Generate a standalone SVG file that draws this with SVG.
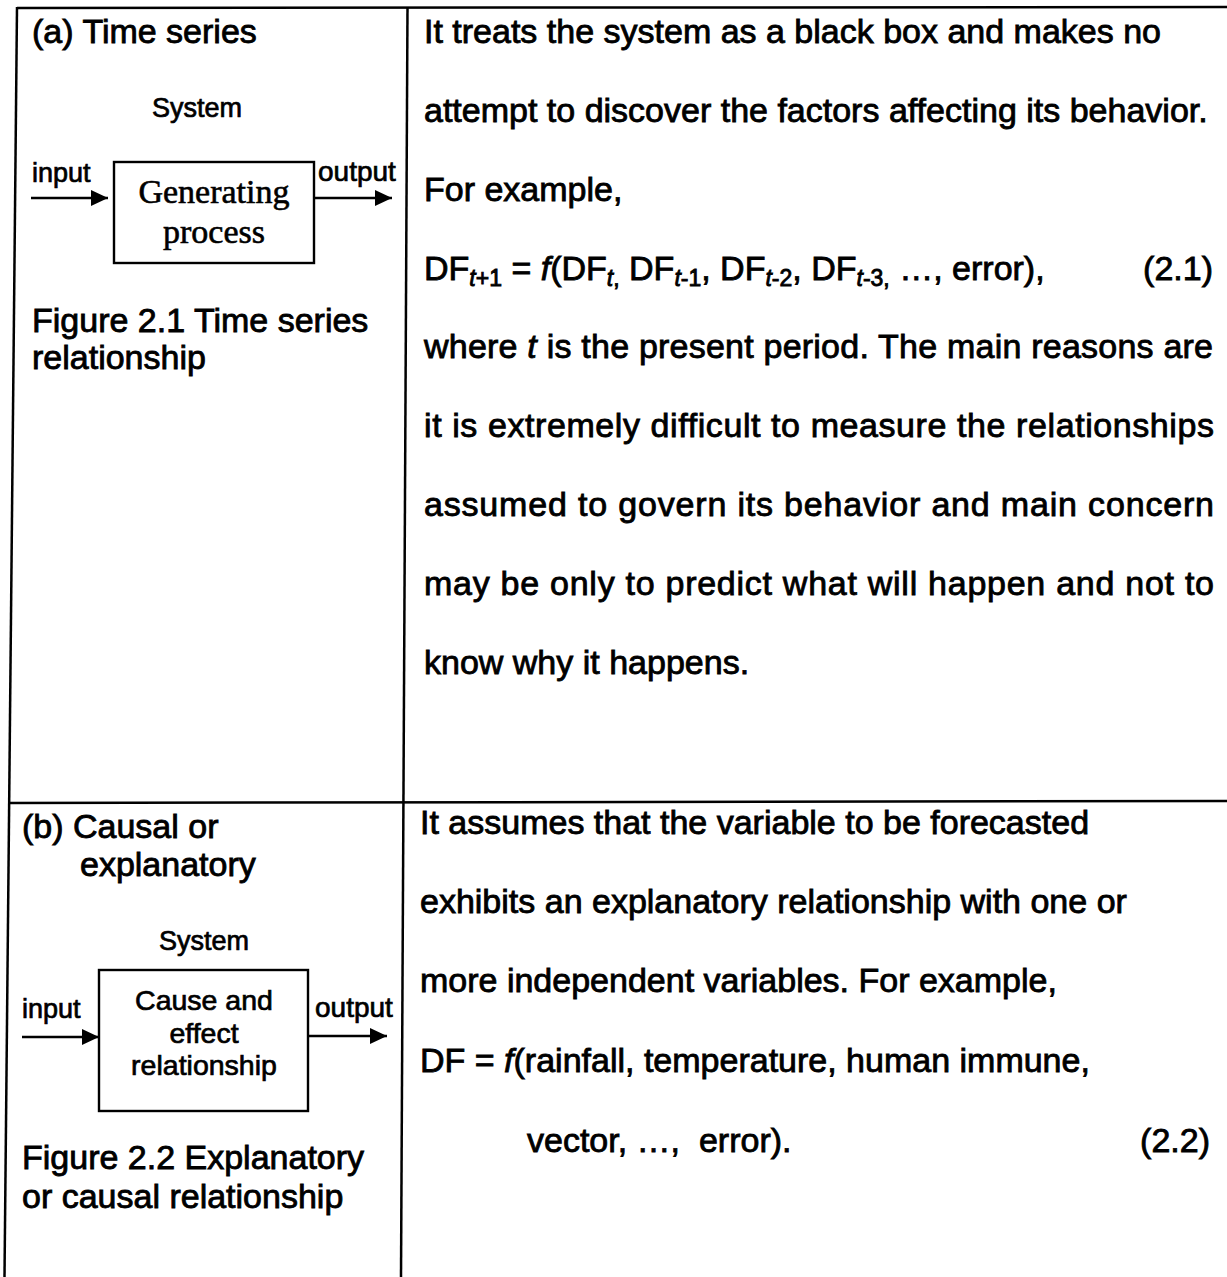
<svg xmlns="http://www.w3.org/2000/svg" width="1227" height="1277" viewBox="0 0 1227 1277">
<defs>
<style>
.t{font-family:"Liberation Sans",Arial,sans-serif;font-size:34px;fill:#000;stroke:#000;stroke-width:0.85}
.s{font-family:"Liberation Sans",Arial,sans-serif;font-size:27px;fill:#000;stroke:#000;stroke-width:0.7}
.m{font-family:"Liberation Serif","Times New Roman",serif;font-size:34px;fill:#000;stroke:#000;stroke-width:0.6}
.b{fill:none;stroke:#000;stroke-width:2.5}
.bx{fill:none;stroke:#000;stroke-width:2.4}
.ar{fill:none;stroke:#000;stroke-width:2.4}
.i{font-style:italic}
.sub{font-size:23px}
</style>
<marker id="ah" viewBox="0 0 17 16" refX="17" refY="8" markerWidth="17" markerHeight="16" orient="auto" markerUnits="userSpaceOnUse">
<path d="M0,0 L17,8 L0,16 z" fill="#000"/>
</marker>
</defs>
<rect width="1227" height="1277" fill="#fff"/>

<g id="table">
<line class="b" x1="17" y1="8" x2="1227" y2="7"/>
<line class="b" x1="8" y1="803" x2="1227" y2="801"/>
<line class="b" x1="17" y1="7" x2="4.5" y2="1277"/>
<line class="b" x1="407.5" y1="7" x2="401" y2="1277"/>
</g>

<g id="cell-a-left">
<text class="t" x="32" y="43">(a) Time series</text>
<text class="s" x="197" y="117" text-anchor="middle">System</text>
<text class="s" x="32" y="182">input</text>
<text class="s" x="318" y="181" style="font-size:28px">output</text>
<text class="t" x="32" y="332">Figure 2.1 Time series</text>
<text class="t" x="32" y="369">relationship</text>
</g>

<g id="node-generating-process">
<rect class="bx" x="114" y="162" width="200" height="101"/>
<text class="m" x="214" y="203" text-anchor="middle">Generating</text>
<text class="m" x="214" y="243" text-anchor="middle">process</text>
</g>

<g id="cell-a-right">
<text class="t" x="424" y="43">It treats the system as a black box and makes no</text>
<text class="t" x="424" y="122">attempt to discover the factors affecting its behavior.</text>
<text class="t" x="424" y="201">For example,</text>
<text class="t" x="424" y="280">DF<tspan class="sub i" dy="6">t</tspan><tspan class="sub" >+1</tspan><tspan dy="-6"> = </tspan><tspan class="i">f</tspan>(DF<tspan class="sub" dy="6"><tspan class="i">t</tspan>,</tspan><tspan dy="-6"> DF</tspan><tspan class="sub" dy="6"><tspan class="i">t</tspan>-1</tspan><tspan dy="-6">, DF</tspan><tspan class="sub" dy="6"><tspan class="i">t</tspan>-2</tspan><tspan dy="-6">, DF</tspan><tspan class="sub" dy="6"><tspan class="i">t</tspan>-3,</tspan><tspan dy="-6"> …, error),</tspan></text>
<text class="t" x="1213" y="280" text-anchor="end">(2.1)</text>
<text class="t" x="424" y="358" textLength="789" lengthAdjust="spacing">where <tspan class="i">t</tspan> is the present period. The main reasons are</text>
<text class="t" x="424" y="437" textLength="790" lengthAdjust="spacing">it is extremely difficult to measure the relationships</text>
<text class="t" x="424" y="516" textLength="790" lengthAdjust="spacing">assumed to govern its behavior and main concern</text>
<text class="t" x="424" y="595" textLength="790" lengthAdjust="spacing">may be only to predict what will happen and not to</text>
<text class="t" x="424" y="674">know why it happens.</text>
</g>

<g id="cell-b-left">
<text class="t" x="22" y="838">(b) Causal or</text>
<text class="t" x="80" y="876">explanatory</text>
<text class="s" x="204" y="950" text-anchor="middle">System</text>
<text class="s" x="22" y="1018">input</text>
<text class="s" x="315" y="1017" style="font-size:28px">output</text>
<text class="t" x="22" y="1169">Figure 2.2 Explanatory</text>
<text class="t" x="22" y="1208">or causal relationship</text>
</g>

<g id="node-cause-effect">
<rect class="bx" x="99" y="970" width="209" height="141"/>
<text class="s" x="204" y="1010" text-anchor="middle" style="font-size:28.5px">Cause and</text>
<text class="s" x="204" y="1043" text-anchor="middle" style="font-size:28.5px">effect</text>
<text class="s" x="204" y="1075" text-anchor="middle" style="font-size:28.5px">relationship</text>
</g>

<g id="cell-b-right">
<text class="t" x="420" y="834">It assumes that the variable to be forecasted</text>
<text class="t" x="420" y="913">exhibits an explanatory relationship with one or</text>
<text class="t" x="420" y="992">more independent variables. For example,</text>
<text class="t" x="420" y="1072">DF = <tspan class="i">f</tspan>(rainfall, temperature, human immune,</text>
<text class="t" x="527" y="1152" xml:space="preserve">vector, …,  error).</text>
<text class="t" x="1210" y="1152" text-anchor="end">(2.2)</text>
</g>

<g id="connectors">
<line class="ar" x1="31" y1="198" x2="108" y2="198" marker-end="url(#ah)"/>
<line class="ar" x1="314" y1="198" x2="392" y2="198" marker-end="url(#ah)"/>
<line class="ar" x1="22" y1="1037" x2="99" y2="1037" marker-end="url(#ah)"/>
<line class="ar" x1="308" y1="1036" x2="387" y2="1036" marker-end="url(#ah)"/>
</g>
</svg>
